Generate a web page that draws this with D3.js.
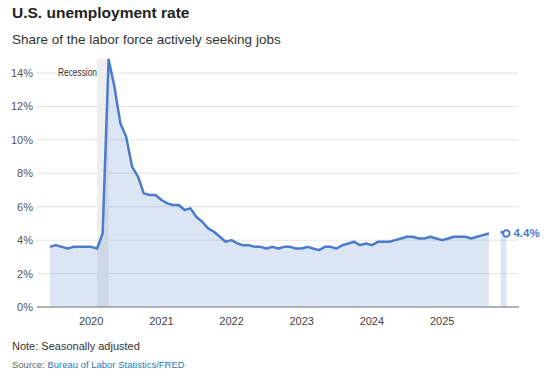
<!DOCTYPE html>
<html>
<head>
<meta charset="utf-8">
<script src="https://cdn.jsdelivr.net/npm/d3@7"></script>
<style>
  body { margin: 0; background: #fff; }
  svg { font-family: "Liberation Sans", Arial, sans-serif; }
</style>
</head>
<body>
<div id="chart"></div>
<script>
// monthly unemployment rate, Jun 2019 .. Dec 2025 (Oct 2025 missing)
var startMonth = "2019-06";
var rates = [
  3.6, 3.7, 3.6, 3.5, 3.6, 3.6, 3.6,
  3.6, 3.5, 4.4, 14.8, 13.2, 11.0, 10.2, 8.4, 7.8, 6.8, 6.7, 6.7,
  6.4, 6.2, 6.1, 6.1, 5.8, 5.9, 5.4, 5.1, 4.7, 4.5, 4.2, 3.9,
  4.0, 3.8, 3.7, 3.7, 3.6, 3.6, 3.5, 3.6, 3.5, 3.6, 3.6, 3.5,
  3.5, 3.6, 3.5, 3.4, 3.6, 3.6, 3.5, 3.7, 3.8, 3.9, 3.7, 3.8,
  3.7, 3.9, 3.9, 3.9, 4.0, 4.1, 4.2, 4.2, 4.1, 4.1, 4.2, 4.1,
  4.0, 4.1, 4.2, 4.2, 4.2, 4.1, 4.2, 4.3, 4.4, null, 4.5, 4.4
];
var yTicks = [0, 2, 4, 6, 8, 10, 12, 14];
var xTicks = ["2020", "2021", "2022", "2023", "2024", "2025"];
var recession = ["2020-02", "2020-04"];

var parseMonth = d3.timeParse("%Y-%m");
var data = rates.map(function(v, i) {
  return { date: d3.timeMonth.offset(parseMonth(startMonth), i), value: v };
});
var last = data[data.length - 1];

var width = 550, height = 376;
var svg = d3.select("#chart").append("svg")
  .attr("width", width).attr("height", height);

var x = d3.scaleTime()
  .domain([data[0].date, last.date])
  .range([50, 506.4]);
var y = d3.scaleLinear().domain([0, 14]).range([307, 73]);

// title
svg.append("text").attr("x", 12).attr("y", 18)
  .attr("font-size", 15.5).attr("font-weight", "bold").attr("fill", "#222")
  .text("U.S. unemployment rate");
svg.append("text").attr("x", 12).attr("y", 44)
  .attr("font-size", 13.5).attr("fill", "#333")
  .text("Share of the labor force actively seeking jobs");

// gridlines
svg.append("g").selectAll("line").data(yTicks.slice(1)).join("line")
  .attr("x1", 37).attr("x2", 518)
  .attr("y1", d => y(d)).attr("y2", d => y(d))
  .attr("stroke", "#e2e2e2").attr("stroke-width", 1);

// recession band
svg.append("rect")
  .attr("x", x(parseMonth(recession[0])))
  .attr("width", x(parseMonth(recession[1])) - x(parseMonth(recession[0])))
  .attr("y", 59).attr("height", 307 - 59)
  .attr("fill", "#eeeeee");

// area + line
var area = d3.area()
  .defined(d => d.value != null)
  .x(d => x(d.date)).y0(y(0)).y1(d => y(d.value));
var line = d3.line()
  .defined(d => d.value != null)
  .x(d => x(d.date)).y(d => y(d.value));

svg.append("path").datum(data)
  .attr("d", area).attr("fill", "#4a7cc9").attr("fill-opacity", 0.2);

// recession label
var recLabel = svg.append("g");
recLabel.append("rect").attr("x", 56).attr("y", 65).attr("width", 41).attr("height", 14)
  .attr("fill", "#fff");
recLabel.append("text").attr("x", 58).attr("y", 76)
  .attr("font-size", 10.5).attr("fill", "#333")
  .attr("textLength", 39).attr("lengthAdjust", "spacingAndGlyphs")
  .text("Recession");

svg.append("path").datum(data)
  .attr("d", line).attr("fill", "none")
  .attr("stroke", "#4a7cc9").attr("stroke-width", 2.5)
  .attr("stroke-linejoin", "round");

// end marker
svg.append("circle").attr("cx", x(last.date)).attr("cy", y(last.value)).attr("r", 3.2)
  .attr("fill", "#fff").attr("stroke", "#4a7cc9").attr("stroke-width", 2);
svg.append("text").attr("x", x(last.date) + 7).attr("y", y(last.value) + 4)
  .attr("font-size", 11.5).attr("font-weight", "bold").attr("fill", "#4a7cc9")
  .text(d3.format(".1f")(last.value) + "%");

// y axis labels
svg.append("g").selectAll("text").data(yTicks).join("text")
  .attr("x", 33).attr("y", d => y(d) + 4)
  .attr("text-anchor", "end").attr("font-size", 11).attr("fill", "#555")
  .text(d => d + "%");

// x axis
svg.append("line").attr("x1", 37).attr("x2", 519)
  .attr("y1", 307).attr("y2", 307)
  .attr("stroke", "#999").attr("stroke-width", 1.5);
svg.append("g").selectAll("text").data(xTicks).join("text")
  .attr("x", d => x(d3.timeParse("%Y")(d))).attr("y", 325)
  .attr("text-anchor", "middle").attr("font-size", 11).attr("fill", "#444")
  .text(d => d);

// footer
svg.append("text").attr("x", 12).attr("y", 350)
  .attr("font-size", 11).attr("fill", "#333")
  .text("Note: Seasonally adjusted");
var src = svg.append("text").attr("x", 12).attr("y", 368)
  .attr("font-size", 9.5).attr("fill", "#666");
src.append("tspan").text("Source: ");
src.append("tspan").attr("fill", "#2a7ab8").text("Bureau of Labor Statistics/FRED");
</script>
</body>
</html>
